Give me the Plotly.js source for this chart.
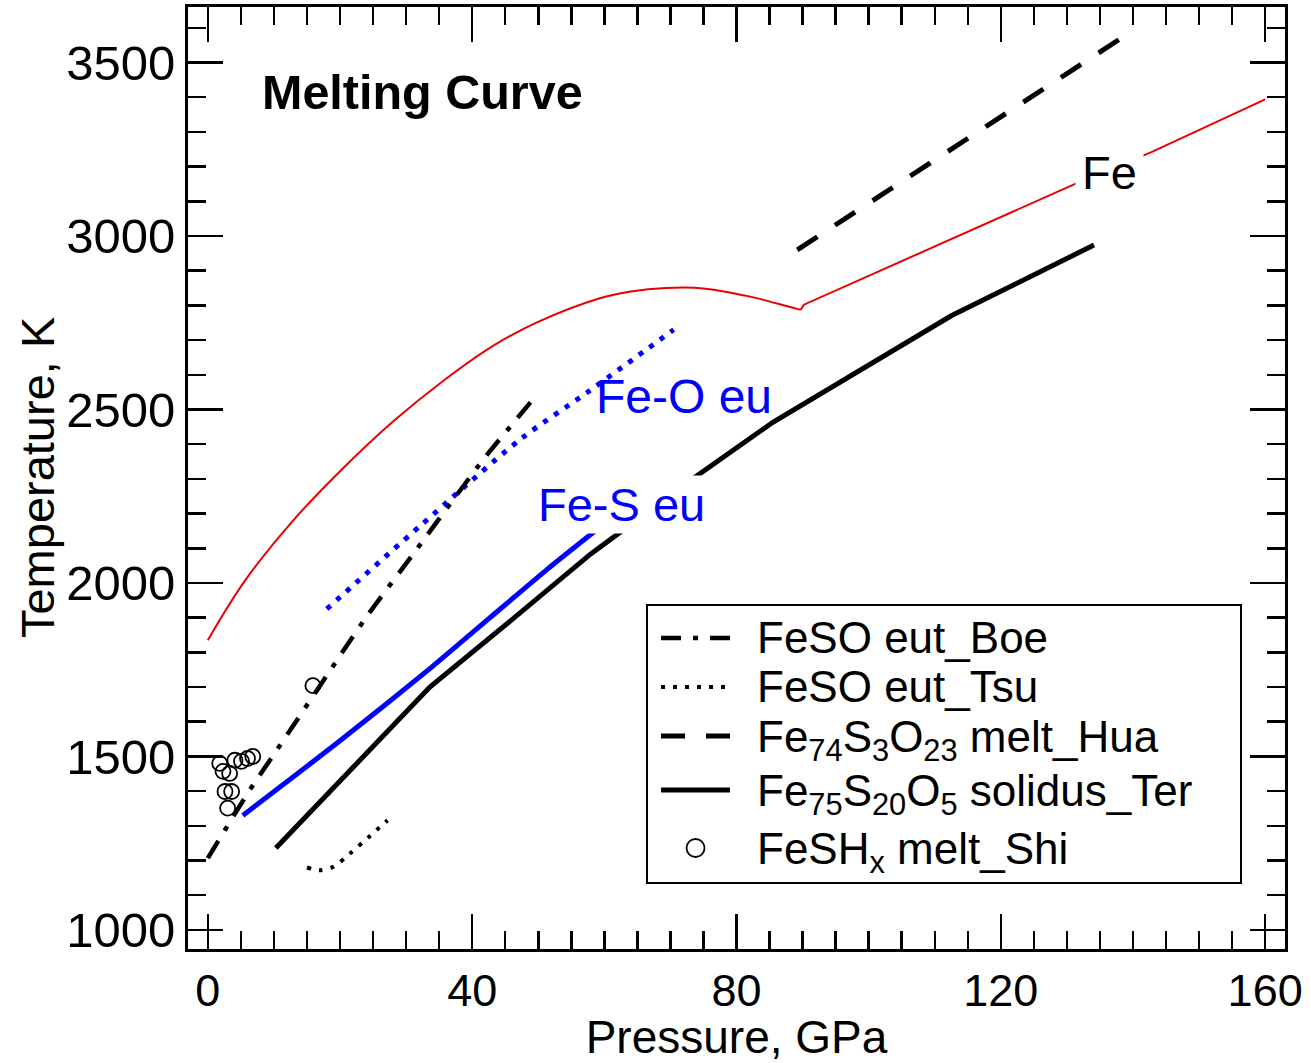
<!DOCTYPE html>
<html>
<head>
<meta charset="utf-8">
<script src="https://cdn.plot.ly/plotly-3.0.1.min.js"></script>
<style>html,body{margin:0;padding:0;background:#fff;}#chart{width:1311px;height:1063px;}</style>
</head>
<body>
<div id="chart"></div>
<script>
// Fe melting curve (two branches)
const feP1 = [0, 5.6, 13.1, 20.7, 28.2, 35.8, 43.4, 49.8, 59.2, 64.0, 69.3, 75.0, 81.9, 86.0, 89.7];
const feT1 = [1835, 2006, 2184, 2335, 2468, 2585, 2686, 2751, 2820, 2840, 2850, 2849, 2826, 2806, 2787];
const feP2 = [89.7, 90.2, 131.0, 142.7, 160.0];
const feT2 = [2787, 2802, 3148, 3241, 3394];
// Fe-O eutectic (blue dotted)
const feoP = [18.0, 32.1, 47.3, 57.4, 70.5];
const feoT = [1925, 2164, 2414, 2549, 2730];
// Fe-S eutectic (blue solid)
const fesP = [5.3, 20.0, 33.6, 42.7, 51.4, 59.4];
const fesT = [1330, 1545, 1753, 1900, 2040, 2162];
// FeSO eut_Boe (dash-dot)
const boeP = [0, 6.3, 10.4, 20.2, 24.1, 31.3, 41.7, 49.2];
const boeT = [1207, 1402, 1517, 1796, 1905, 2089, 2356, 2529];
// FeSO eut_Tsu (dotted)
const tsuP = [15.0, 17.0, 19.0, 21.5, 24.5, 27.2];
const tsuT = [1180, 1172, 1182, 1220, 1270, 1316];
// Fe74S3O23 melt_Hua (dashed)
const huaP = [89.2, 140.2];
const huaT = [2960, 3595];
// Fe75S20O5 solidus_Ter (solid)
const terP = [10.3, 33.6, 46.2, 57.9, 73.0, 85.5, 112.5, 134.1];
const terT = [1236, 1700, 1897, 2083, 2295, 2463, 2770, 2974];
// FeSHx melt_Shi (open circles)
const shiP = [1.8, 2.3, 3.3, 4.1, 5.1, 6.0, 6.8, 2.6, 3.6, 3.0, 15.9];
const shiT = [1480, 1457, 1451, 1489, 1486, 1494, 1500, 1399, 1399, 1351, 1704];

// Legend entries (in order)
const legendNames = [
  'FeSO eut_Boe',
  'FeSO eut_Tsu',
  'Fe<sub>74</sub>S<sub>3</sub>O<sub>23</sub> melt_Hua',
  'Fe<sub>75</sub>S<sub>20</sub>O<sub>5</sub> solidus_Ter',
  'FeSH<sub>x</sub> melt_Shi'
];
const xTickVals = [0, 40, 80, 120, 160];
const yTickVals = [1000, 1500, 2000, 2500, 3000, 3500];

const FONT = 'Liberation Sans, Arial, Helvetica, sans-serif';
const BLUE = 'rgb(0,0,255)';
const RED = 'rgb(235,0,0)';

const boeStyle = {color: 'black', width: 4.5, dash: '20px,12px,5px,12px'};
const tsuStyle = {color: 'black', width: 4, dash: '4px,8px'};
const huaStyle = {color: 'black', width: 5, dash: '24px,21px'};
const terStyle = {color: 'black', width: 5};

const traces = [
  {x: feP1, y: feT1, mode: 'lines', line: {color: RED, width: 2, shape: 'spline', smoothing: 1}},
  {x: feP2, y: feT2, mode: 'lines', line: {color: RED, width: 2}},
  {x: feoP, y: feoT, mode: 'lines', line: {color: BLUE, width: 5, dash: '5px,8px', shape: 'spline', smoothing: 0.8}},
  {x: fesP, y: fesT, mode: 'lines', line: {color: BLUE, width: 5, shape: 'spline', smoothing: 0.6}},
  {x: boeP, y: boeT, mode: 'lines', name: legendNames[0], line: Object.assign({shape: 'spline', smoothing: 0.6}, boeStyle)},
  {x: tsuP, y: tsuT, mode: 'lines', name: legendNames[1], line: Object.assign({shape: 'spline', smoothing: 0.8}, tsuStyle)},
  {x: huaP, y: huaT, mode: 'lines', name: legendNames[2], line: huaStyle},
  {x: terP, y: terT, mode: 'lines', name: legendNames[3], line: terStyle},
  {x: shiP, y: shiT, mode: 'markers', name: legendNames[4], marker: {symbol: 'circle-open', size: 15, color: 'black', line: {width: 1.8, color: 'black'}}}
];

const axisCommon = {
  showgrid: false, zeroline: false, showline: true, linecolor: 'black', linewidth: 3,
  mirror: 'allticks', ticks: 'inside', ticklen: 35, tickwidth: 2.5, tickcolor: 'black'
};

// manual legend box (paper coordinates)
const LG = {x0: 0.4184, x1: 0.9599, y0: 0.0701, y1: 0.3652, sx0: 0.4312, sx1: 0.4941, tx: 0.5169,
            rows: [0.3301, 0.2781, 0.2261, 0.1688, 0.1072]};
const sampleStyles = [boeStyle, tsuStyle, huaStyle, terStyle];

const shapes = [
  {type: 'rect', xref: 'paper', yref: 'paper', x0: LG.x0, x1: LG.x1, y0: LG.y0, y1: LG.y1,
   line: {color: 'black', width: 2}, fillcolor: 'white', layer: 'above'}
];
sampleStyles.forEach((st, i) => {
  shapes.push({type: 'line', xref: 'paper', yref: 'paper', x0: LG.sx0, x1: LG.sx1, y0: LG.rows[i], y1: LG.rows[i],
               line: {color: st.color, width: st.width, dash: st.dash || 'solid'}, layer: 'above'});
});
shapes.push({type: 'circle', xref: 'paper', yref: 'paper', xsizemode: 'pixel', ysizemode: 'pixel',
             xanchor: (LG.sx0 + LG.sx1) / 2, yanchor: LG.rows[4], x0: -9, x1: 9, y0: -9, y1: 9,
             line: {color: 'black', width: 1.8}, layer: 'above'});

const annotations = [
  {xref: 'paper', yref: 'paper', x: 0.066, y: 0.91, xanchor: 'left', yanchor: 'middle', showarrow: false,
   text: '<b>Melting Curve</b>', font: {family: FONT, size: 48.5, color: 'black'}},
  {x: 72.1, y: 2537, showarrow: false, text: 'Fe-O eu', font: {family: FONT, size: 48, color: BLUE}},
  {x: 62.6, y: 2227, showarrow: false, text: 'Fe-S eu', bgcolor: 'white', borderpad: 2, font: {family: FONT, size: 47, color: BLUE}},
  {x: 136.4, y: 3184, showarrow: false, text: 'Fe', bgcolor: 'white', borderpad: 6, font: {family: FONT, size: 47, color: 'black'}},
  // y axis title
  {xref: 'paper', yref: 'paper', x: -0.1376, y: 0.5, xanchor: 'center', yanchor: 'middle', showarrow: false,
   textangle: -90, text: 'Temperature, K', font: {family: FONT, size: 47, color: 'black'}}
];
legendNames.forEach((nm, i) => {
  annotations.push({xref: 'paper', yref: 'paper', x: LG.tx, y: LG.rows[i], xanchor: 'left', yanchor: 'middle',
                    showarrow: false, text: nm, align: 'left', font: {family: FONT, size: 44, color: 'black'},
                    yshift: nm.indexOf('<sub>') >= 0 ? -4 : 1});
});

const layout = {
  width: 1311, height: 1063,
  margin: {l: 188, r: 26, t: 7, b: 114},
  paper_bgcolor: 'white', plot_bgcolor: 'white',
  showlegend: false,
  font: {family: FONT, color: 'black'},
  xaxis: Object.assign({}, axisCommon, {
    range: [-3, 163], tickvals: xTickVals,
    tickfont: {family: FONT, size: 45, color: 'black'},
    minor: {dtick: 5, tick0: 0, ticklen: 18, tickwidth: 2.5, tickcolor: 'black', ticks: 'inside'},
    title: {text: 'Pressure, GPa', font: {family: FONT, size: 46, color: 'black'}, standoff: 0}
  }),
  yaxis: Object.assign({}, axisCommon, {
    range: [945, 3660], tickvals: yTickVals,
    tickfont: {family: FONT, size: 49, color: 'black'},
    minor: {dtick: 100, tick0: 1000, ticklen: 18, tickwidth: 2.5, tickcolor: 'black', ticks: 'inside'}
  }),
  shapes: shapes,
  annotations: annotations
};

Plotly.newPlot('chart', traces, layout, {staticPlot: true, displayModeBar: false});
</script>
</body>
</html>
